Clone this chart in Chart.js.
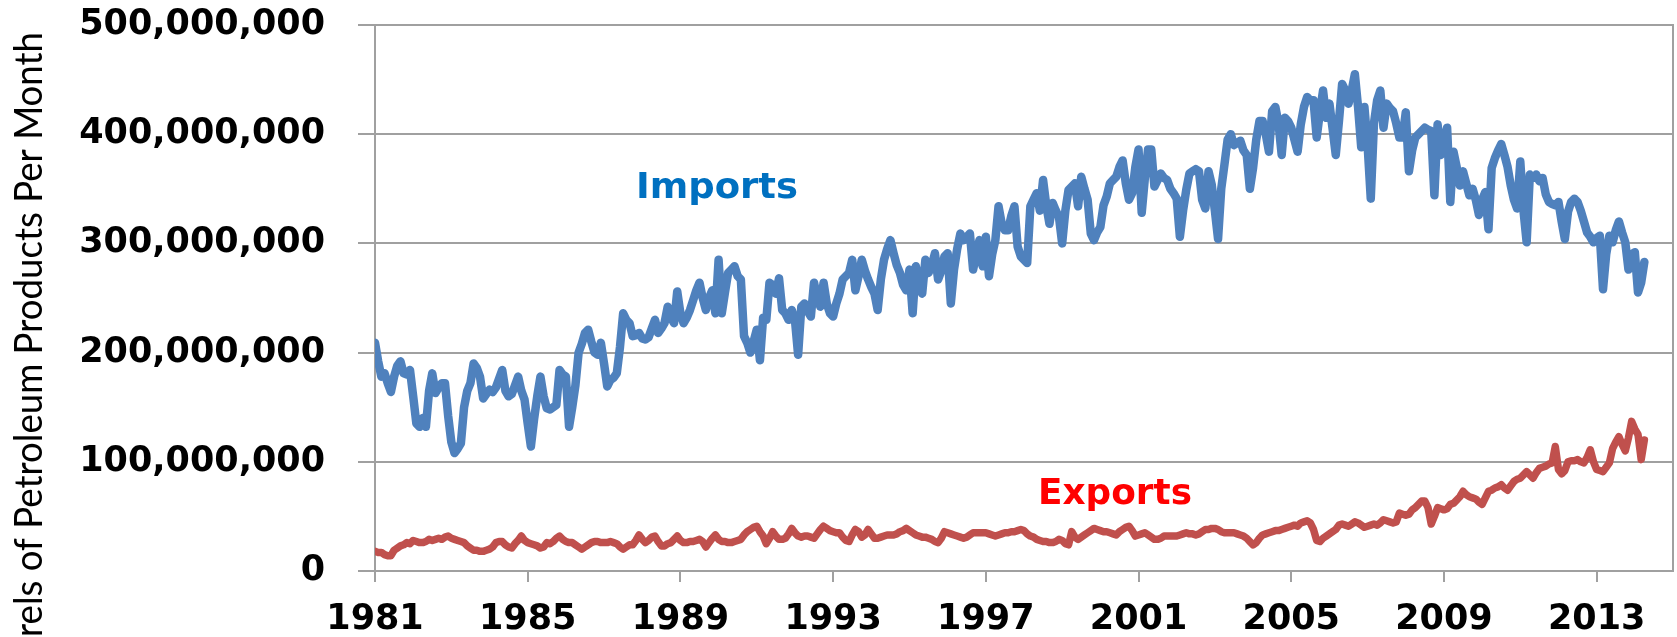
<!DOCTYPE html>
<html>
<head>
<meta charset="utf-8">
<script src="https://cdn.jsdelivr.net/npm/chart.js@4/dist/chart.umd.min.js"></script>
<style>
  html, body { margin: 0; padding: 0; background: #ffffff; overflow: hidden; }
  #wrap { width: 1677px; height: 637px; position: relative; }
</style>
</head>
<body>
<div id="wrap"><canvas id="c" width="1677" height="637"></canvas></div>
<script>
// Monthly series, Jan 1981 .. Apr 2014, millions of barrels per month
const startYear = 1981;
const imports = [
209,192,178,181,172,164,178,188,192,181,180,184,160,135,132,140,132,165,181,163,168,172,172,142,
118,108,112,117,150,165,172,190,186,178,158,162,166,164,168,176,184,165,160,162,170,178,165,157,
135,114,139,160,178,160,149,148,150,152,184,180,178,132,150,170,200,208,218,221,210,200,198,209,
190,169,175,177,181,205,236,230,227,215,216,218,213,212,214,222,230,218,222,227,242,232,227,256,
236,227,232,239,248,257,264,250,239,250,257,236,285,236,255,273,276,279,270,267,215,209,200,210,
221,193,232,230,264,262,254,268,239,236,230,239,230,198,242,245,238,233,264,250,242,264,245,236,
233,245,254,267,270,273,285,257,270,285,275,267,260,254,239,267,285,295,303,291,280,273,262,257,
276,236,279,265,254,285,273,280,291,267,275,288,291,245,276,295,309,303,306,309,276,290,303,279,
306,270,290,303,334,318,312,312,325,334,297,288,285,282,334,340,346,330,358,335,318,337,330,324,
300,330,349,352,355,334,361,350,340,309,303,310,315,335,343,355,358,361,370,376,355,340,346,370,
386,328,360,386,386,352,358,364,360,358,350,346,341,306,330,349,364,366,368,366,340,332,366,354,
330,304,350,372,395,400,390,392,394,385,381,350,369,395,412,412,400,384,421,425,410,381,415,412,
406,395,384,409,425,434,431,431,397,420,440,415,428,405,381,412,446,440,428,440,455,425,388,425,
390,341,410,431,440,406,428,424,421,410,397,397,420,366,385,397,400,403,406,404,403,344,409,381,
395,406,338,384,370,353,366,355,344,350,340,326,340,347,313,369,378,385,391,381,370,353,340,332,
375,330,301,363,360,363,357,360,345,338,336,335,338,320,304,329,338,341,338,330,320,310,306,301,
305,307,258,290,307,301,312,320,310,301,276,290,292,255,264,283
];
const exports = [
18,17,17,15,14,14,19,21,23,24,26,25,28,27,26,26,27,29,28,29,30,29,31,32,
30,29,28,27,26,23,21,19,19,18,18,19,20,22,26,27,27,24,22,21,25,28,32,28,
26,25,24,23,21,22,26,25,27,30,32,29,27,26,26,24,22,20,22,24,26,27,27,26,
26,26,27,26,25,22,20,22,24,24,28,33,29,26,28,31,32,27,23,23,25,26,29,32,
28,26,26,27,27,28,29,27,22,26,30,33,29,27,27,26,26,27,28,29,33,36,38,40,
41,36,32,25,30,36,32,29,29,30,34,39,35,32,31,32,32,31,30,34,38,41,39,37,
36,35,35,31,28,27,33,38,36,31,33,38,34,30,30,31,32,33,33,33,34,36,37,39,
37,35,33,32,31,31,30,29,27,26,30,36,35,34,33,32,31,30,31,33,35,35,35,35,
35,34,33,32,33,34,35,35,36,36,37,38,37,34,32,31,29,28,27,27,26,26,27,29,
28,25,24,36,31,29,31,33,35,37,39,38,37,36,36,35,34,33,36,38,40,41,37,32,
33,34,35,33,31,29,29,30,32,32,32,32,32,33,34,35,34,34,33,34,36,38,38,39,
39,38,36,35,35,35,35,34,33,32,30,27,24,26,30,33,34,35,36,37,37,38,39,40,
41,42,41,44,45,46,44,38,28,27,30,32,34,36,38,42,43,42,41,43,45,44,42,40,
41,42,43,42,44,47,46,45,44,45,53,52,51,52,56,58,61,64,64,58,43,50,58,57,
56,57,61,62,65,68,73,70,68,67,66,63,61,67,73,74,76,77,79,76,74,78,82,84,
85,88,91,88,85,90,94,95,96,98,99,114,93,89,92,100,101,101,102,100,99,104,111,100,
93,92,91,95,99,112,118,123,116,110,122,137,130,125,102,120
];
const tickYears = [1981, 1985, 1989, 1993, 1997, 2001, 2005, 2009, 2013];
const yTicks = [0, 100000000, 200000000, 300000000, 400000000, 500000000];
const seriesNames = ['Imports', 'Exports'];
const axisTitle = 'Barrels of Petroleum Products Per Month';

const toPoints = arr => arr.map((v, i) => ({ x: startYear + i / 12, y: v * 1e6 }));

const GRID = '#a0a0a0';
const TICKFONT = { family: 'DejaVu Sans', weight: 'bold', size: 35 };

const labelsPlugin = {
  id: 'labelsPlugin',
  afterDraw(chart) {
    const ctx = chart.ctx;
    const drawFit = (text, x, baseline, targetW, color) => {
      ctx.save();
      ctx.font = 'bold 36px "DejaVu Sans"';
      ctx.fillStyle = color;
      ctx.textBaseline = 'alphabetic';
      ctx.textAlign = 'left';
      const w = ctx.measureText(text).width;
      ctx.translate(x, baseline);
      ctx.scale(targetW / w, 1);
      ctx.fillText(text, 0, 0);
      ctx.restore();
    };
    drawFit(seriesNames[0], 636, 198, 162, '#0070C0');
    drawFit(seriesNames[1], 1038, 504, 154, '#FF0000');

    // rotated axis title, clipped by the bottom edge as in the original
    ctx.save();
    ctx.font = '38px Lato';
    ctx.fillStyle = '#000000';
    ctx.textBaseline = 'alphabetic';
    ctx.textAlign = 'left';
    const wAll = ctx.measureText(axisTitle).width;
    const wCut = ctx.measureText('Bar').width;
    const sx = 605 / (wAll - wCut);
    const yStart = 32 + sx * wAll;
    ctx.translate(42, yStart);
    ctx.rotate(-Math.PI / 2);
    ctx.scale(sx, 1);
    ctx.fillText(axisTitle, 0, 0);
    ctx.restore();
  }
};

new Chart(document.getElementById('c'), {
  type: 'line',
  data: {
    datasets: [
      {
        label: seriesNames[0],
        data: toPoints(imports),
        borderColor: '#4F81BD',
        borderWidth: 8.5,
        pointRadius: 0,
        tension: 0,
        borderJoinStyle: 'round',
        borderCapStyle: 'round',
        fill: false
      },
      {
        label: seriesNames[1],
        data: toPoints(exports),
        borderColor: '#C0504D',
        borderWidth: 7.5,
        pointRadius: 0,
        tension: 0,
        borderJoinStyle: 'round',
        borderCapStyle: 'round',
        fill: false
      }
    ]
  },
  options: {
    responsive: false,
    animation: false,
    devicePixelRatio: 1,
    layout: { padding: { top: 25, right: 0, bottom: 0, left: 0 } },
    plugins: { legend: { display: false }, tooltip: { enabled: false }, title: { display: false } },
    scales: {
      x: {
        type: 'linear',
        min: 1981,
        max: 2015,
        afterBuildTicks: s => { s.ticks = tickYears.map(v => ({ value: v })); },
        afterFit: s => { s.height = 66; s.paddingLeft = 0; s.paddingRight = 0; },
        grid: { drawOnChartArea: false, drawTicks: true, tickLength: 11, color: GRID, lineWidth: 2 },
        border: { display: true, color: GRID, width: 2 },
        ticks: {
          autoSkip: false,
          maxRotation: 0,
          padding: 17,
          color: '#000000',
          font: TICKFONT,
          callback: v => String(v)
        }
      },
      y: {
        type: 'linear',
        position: 'left',
        min: 0,
        max: 500000000,
        afterBuildTicks: s => { s.ticks = yTicks.map(v => ({ value: v })); },
        afterFit: s => { s.width = 375; s.paddingTop = 0; s.paddingBottom = 0; },
        grid: { color: GRID, lineWidth: 2, tickLength: 17, drawTicks: true },
        border: { display: true, color: GRID, width: 2 },
        ticks: {
          padding: 33,
          color: '#000000',
          font: TICKFONT,
          callback: v => Number(v).toLocaleString('en-US')
        }
      },
      y2: {
        type: 'linear',
        position: 'right',
        min: 0,
        max: 500000000,
        afterFit: s => { s.width = 4; s.paddingTop = 0; s.paddingBottom = 0; },
        grid: { display: false },
        ticks: { display: false },
        border: { display: true, color: GRID, width: 2 }
      }
    }
  },
  plugins: [labelsPlugin]
});
</script>
</body>
</html>
